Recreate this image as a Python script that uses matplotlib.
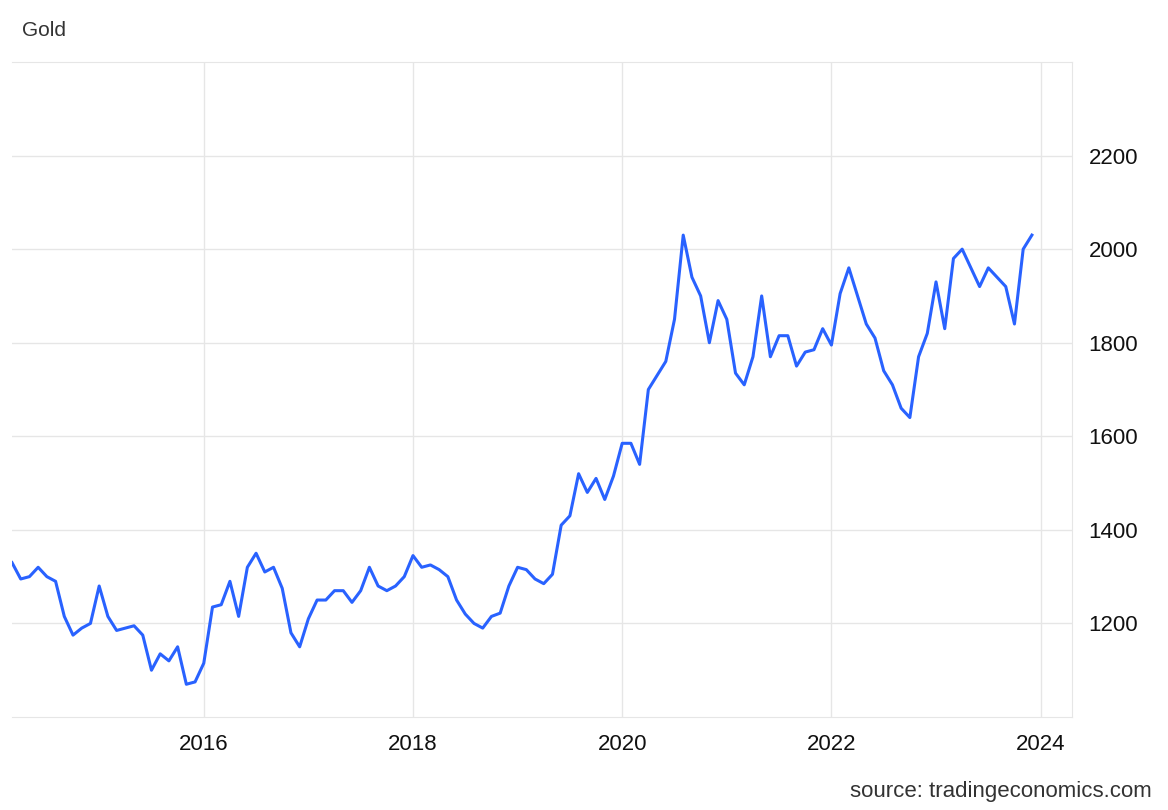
import matplotlib
matplotlib.use("Agg")
import matplotlib.pyplot as plt
import numpy as np

plt.rcParams['font.family'] = ['Liberation Sans', 'DejaVu Sans']

start_year = 2014 + 2/12
prices = [
 1330,1295,1300,1320,1300,1290,1215,1175,1190,1200,
 1280,1215,1185,1190,1195,1175,1100,1135,1120,1150,1070,1075,
 1115,1235,1240,1290,1215,1320,1350,1310,1320,1275,1180,1150,
 1210,1250,1250,1270,1270,1245,1270,1320,1280,1270,1280,1300,
 1345,1320,1325,1315,1300,1250,1220,1200,1190,1215,1222,1280,
 1320,1315,1295,1285,1305,1410,1430,1520,1480,1510,1465,1515,
 1585,1585,1540,1700,1730,1760,1850,2030,1940,1900,1800,1890,
 1850,1735,1710,1770,1900,1770,1815,1815,1750,1780,1785,1830,
 1795,1905,1960,1900,1840,1810,1740,1710,1660,1640,1770,1820,
 1930,1830,1980,2000,1960,1920,1960,1940,1920,1840,2000,2030,
]
x = start_year + np.arange(len(prices))/12

fig = plt.figure(figsize=(11.68, 8.10), dpi=100)
ax = fig.add_axes([12/1168, 93/810, 1060/1168, 655/810])
ax.plot(x, prices, color="#2962ff", lw=2.2)
ax.set_xlim(start_year, 2024.3)
ax.set_ylim(1000, 2400)
ax.set_yticks([1200,1400,1600,1800,2000,2200])
ax.set_xticks([2016,2018,2020,2022,2024])
ax.yaxis.tick_right()
ax.tick_params(length=0, labelsize=16, pad=12, labelcolor="#111111")
ax.grid(True, color="#e6e6e6", lw=1)
ax.spines["left"].set_visible(False)
for s in ["top","right","bottom"]:
    ax.spines[s].set_color("#e6e6e6")
fig.text(22/1168, 1-31/810, "Gold", fontsize=15, color="#333333", va="center")
fig.text(1152/1168, 1-791/810, "source: tradingeconomics.com", fontsize=16, color="#333333", ha="right", va="center")
fig.savefig("out.png", dpi=100)
